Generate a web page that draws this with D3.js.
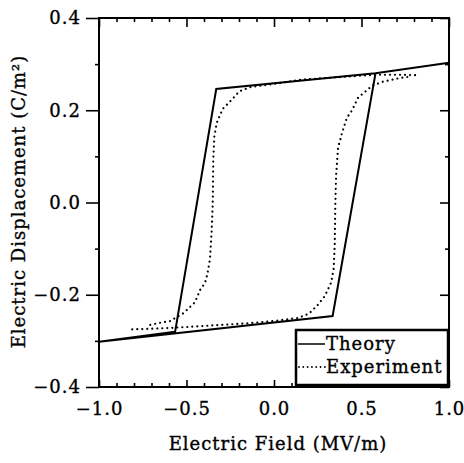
<!DOCTYPE html>
<html>
<head>
<meta charset="utf-8">
<script src="https://cdn.jsdelivr.net/npm/d3@7"></script>
<style>
  html, body { margin: 0; padding: 0; background: #fff; }
  svg { display: block; }
  text { font-family: "DejaVu Serif", serif; fill: #000; stroke: #000; stroke-width: 0.35px; letter-spacing: 1px; }
</style>
</head>
<body>
<svg id="chart" width="464" height="463"></svg>
<script>
// ---- data ----
const xTicksMajor = [-1.0, -0.5, 0.0, 0.5, 1.0];
const xTicksMinor = [-0.9, -0.8, -0.7, -0.6, -0.4, -0.3, -0.2, -0.1, 0.1, 0.2, 0.3, 0.4, 0.6, 0.7, 0.8, 0.9];
const yTicksMajor = [-0.4, -0.2, 0.0, 0.2, 0.4];
const yTicksMinor = [-0.3, -0.1, 0.1, 0.3];

// Theory loop (solid)
const theoryE = [-1.0, 0.335, 0.58, 1.0, 0.58, -0.33, -0.565, -1.0];
const theoryD = [-0.302, -0.246, 0.28, 0.303, 0.28, 0.246, -0.28, -0.302];

// Experiment, rising branch (dotted)
const expRiseE = [-0.81, -0.72, -0.6, -0.5, -0.33, -0.15, 0.0, 0.04, 0.14, 0.2, 0.25, 0.29, 0.327, 0.341, 0.347, 0.35, 0.355, 0.366, 0.389, 0.417, 0.446, 0.48, 0.52, 0.56, 0.623, 0.72, 0.78];
const expRiseD = [-0.275, -0.274, -0.272, -0.27, -0.266, -0.262, -0.257, -0.255, -0.25, -0.241, -0.222, -0.203, -0.173, -0.143, -0.093, -0.01, 0.06, 0.119, 0.151, 0.184, 0.2, 0.227, 0.24, 0.253, 0.262, 0.27, 0.273];
// Experiment, falling branch (dotted)
const expFallE = [0.806, 0.72, 0.606, 0.5, 0.377, 0.149, -0.042, -0.137, -0.198, -0.251, -0.293, -0.327, -0.341, -0.347, -0.35, -0.356, -0.366, -0.381, -0.394, -0.423, -0.451, -0.484, -0.518, -0.594, -0.642, -0.73];
const expFallD = [0.276, 0.277, 0.277, 0.275, 0.272, 0.266, 0.255, 0.25, 0.241, 0.219, 0.203, 0.173, 0.143, 0.093, 0.0, -0.06, -0.123, -0.156, -0.174, -0.19, -0.216, -0.228, -0.24, -0.257, -0.26, -0.267];

const legendLabels = ["Theory", "Experiment"];
const xLabel = "Electric Field (MV/m)";
const yLabel = "Electric Displacement (C/m\u00B2)";

// ---- layout ----
const svg = d3.select("#chart");
const L = 99, R = 449, T = 18, B = 387;
const x = d3.scaleLinear().domain([-1, 1]).range([L, R]);
const y = d3.scaleLinear().domain([-0.4, 0.4]).range([B, T]);
const fmt = d3.format(".1f");
const FS = "18px";

function styleAxis(g) {
  g.select(".domain").remove();
  g.selectAll(".tick line").attr("stroke", "#000").attr("stroke-width", 1.6);
  g.selectAll(".tick text").style("font-family", "DejaVu Serif, serif").style("font-size", FS).attr("fill", "#000");
}

// bottom
svg.append("g").attr("transform", `translate(0,${B})`)
  .call(d3.axisBottom(x).tickValues(xTicksMinor).tickSizeInner(-4).tickSizeOuter(0).tickFormat(""))
  .call(styleAxis);
svg.append("g").attr("transform", `translate(0,${B})`)
  .call(d3.axisBottom(x).tickValues(xTicksMajor).tickSizeInner(-7).tickSizeOuter(0).tickPadding(15).tickFormat(fmt))
  .call(styleAxis);
// top
svg.append("g").attr("transform", `translate(0,${T})`)
  .call(d3.axisTop(x).tickValues(xTicksMinor).tickSizeInner(-4).tickSizeOuter(0).tickFormat(""))
  .call(styleAxis);
svg.append("g").attr("transform", `translate(0,${T})`)
  .call(d3.axisTop(x).tickValues(xTicksMajor).tickSizeInner(-9).tickSizeOuter(0).tickFormat(""))
  .call(styleAxis);
// left (outward)
svg.append("g").attr("transform", `translate(${L},0)`)
  .call(d3.axisLeft(y).tickValues(yTicksMinor).tickSizeInner(4).tickSizeOuter(0).tickFormat(""))
  .call(styleAxis);
svg.append("g").attr("transform", `translate(${L},0)`)
  .call(d3.axisLeft(y).tickValues(yTicksMajor).tickSizeInner(13).tickSizeOuter(0).tickPadding(5).tickFormat(fmt))
  .call(styleAxis);
// right (inward)
svg.append("g").attr("transform", `translate(${R},0)`)
  .call(d3.axisRight(y).tickValues(yTicksMinor).tickSizeInner(-4).tickSizeOuter(0).tickFormat(""))
  .call(styleAxis);
svg.append("g").attr("transform", `translate(${R},0)`)
  .call(d3.axisRight(y).tickValues(yTicksMajor).tickSizeInner(-9).tickSizeOuter(0).tickFormat(""))
  .call(styleAxis);

// frame
svg.append("rect").attr("x", L).attr("y", T).attr("width", R - L).attr("height", B - T)
  .attr("fill", "none").attr("stroke", "#000").attr("stroke-width", 2);

// curves
const line = d3.line().x(d => x(d[0])).y(d => y(d[1]));
const theory = theoryE.map((e, i) => [e, theoryD[i]]);
const expRise = expRiseE.map((e, i) => [e, expRiseD[i]]);
const expFall = expFallE.map((e, i) => [e, expFallD[i]]);

svg.append("clipPath").attr("id", "clip").append("rect")
  .attr("x", L).attr("y", T).attr("width", R - L).attr("height", B - T);

const plot = svg.append("g").attr("clip-path", "url(#clip)");
[expRise, expFall].forEach(d => {
  plot.append("path").attr("d", line(d)).attr("fill", "none").attr("stroke", "#000")
    .attr("stroke-width", 2.2).attr("stroke-linecap", "round").attr("stroke-dasharray", "0.01 5");
});
plot.append("path").attr("d", line(theory)).attr("fill", "none").attr("stroke", "#000")
  .attr("stroke-width", 2).attr("stroke-linejoin", "miter");

// legend
const lg = svg.append("g");
lg.append("rect").attr("x", 296).attr("y", 330).attr("width", 152).attr("height", 55)
  .attr("fill", "#fff").attr("stroke", "#000").attr("stroke-width", 2.5);
lg.append("line").attr("x1", 298).attr("x2", 325).attr("y1", 344).attr("y2", 344)
  .attr("stroke", "#000").attr("stroke-width", 1.5);
lg.append("line").attr("x1", 299).attr("x2", 325).attr("y1", 367).attr("y2", 367)
  .attr("stroke", "#000").attr("stroke-width", 1.8).attr("stroke-linecap", "round").attr("stroke-dasharray", "0.01 4.3");
lg.append("text").attr("x", 326).attr("y", 350).style("font-size", FS).text(legendLabels[0]);
lg.append("text").attr("x", 326).attr("y", 373).style("font-size", FS).text(legendLabels[1]);

// axis titles
svg.append("text").attr("x", (L + R) / 2 + 4).attr("y", 450).attr("text-anchor", "middle")
  .style("font-size", FS).text(xLabel);
svg.append("text").attr("transform", `translate(25,${(T + B) / 2 - 1}) rotate(-90)`).attr("text-anchor", "middle")
  .style("font-size", FS).text(yLabel);
</script>
</body>
</html>
